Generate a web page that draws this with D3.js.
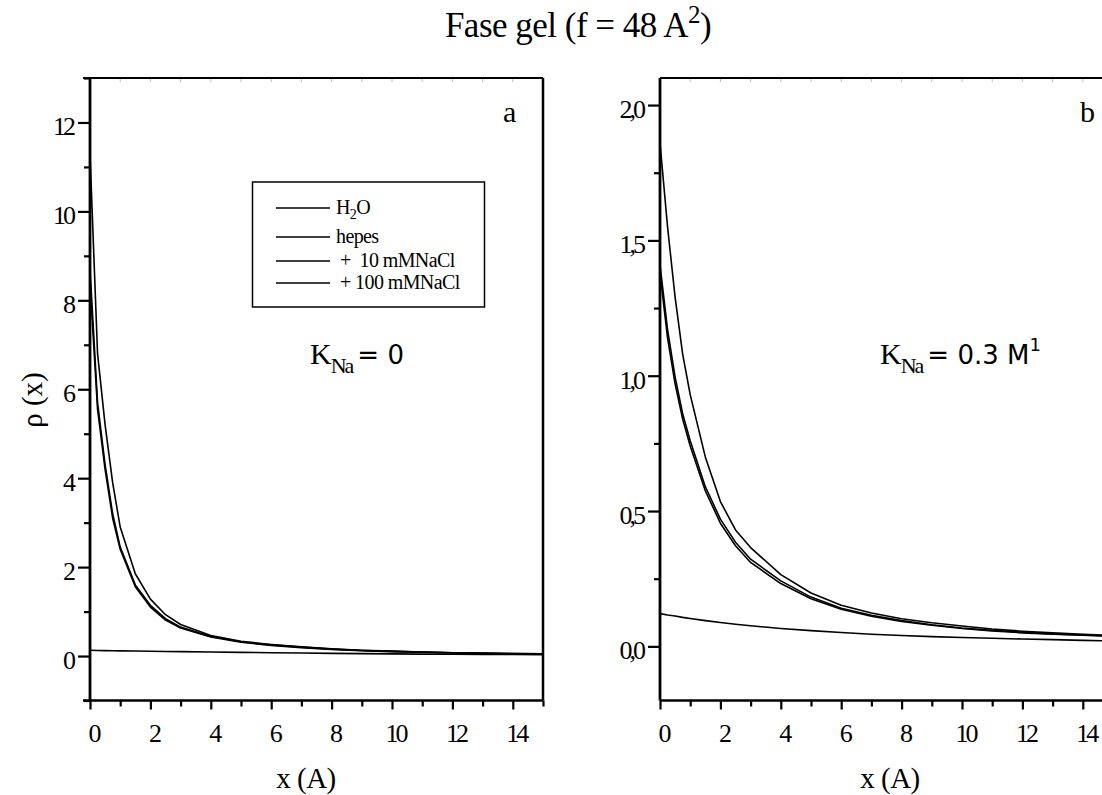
<!DOCTYPE html>
<html>
<head>
<meta charset="utf-8">
<script src="https://cdn.jsdelivr.net/npm/d3@7"></script>
<style>
  html, body { margin: 0; padding: 0; background: #fff; }
  svg { display: block; }
</style>
</head>
<body>
<svg id="chart" width="1102" height="795"></svg>
<script>
// Sampling positions (Angstrom) shared by every profile
const xs = [0, 0.25, 0.5, 0.75, 1, 1.5, 2, 2.5, 3, 4, 5, 6, 7, 8, 9, 10, 11, 12, 13, 14, 15];

// Panel a: K_Na = 0
const h2oA     = [0.13, 0.125, 0.122, 0.12, 0.117, 0.112, 0.107, 0.103, 0.099, 0.09, 0.082, 0.074, 0.067, 0.06, 0.054, 0.049, 0.044, 0.04, 0.036, 0.033, 0.03];
const hepesA   = [11.3, 6.8, 5.2, 3.9, 2.9, 1.85, 1.28, 0.93, 0.71, 0.46, 0.33, 0.26, 0.205, 0.16, 0.13, 0.11, 0.09, 0.075, 0.065, 0.055, 0.05];
const nacl10A  = [8.7, 5.7, 4.3, 3.2, 2.45, 1.6, 1.14, 0.84, 0.65, 0.44, 0.32, 0.25, 0.2, 0.155, 0.125, 0.105, 0.088, 0.073, 0.063, 0.054, 0.048];
const nacl100A = [8.4, 5.55, 4.2, 3.1, 2.4, 1.56, 1.1, 0.81, 0.63, 0.43, 0.31, 0.24, 0.19, 0.15, 0.12, 0.1, 0.085, 0.07, 0.06, 0.052, 0.046];

// Panel b: K_Na = 0.3 M^-1
const h2oB     = [0.121, 0.116, 0.112, 0.107, 0.103, 0.095, 0.088, 0.082, 0.076, 0.066, 0.058, 0.051, 0.045, 0.04, 0.036, 0.033, 0.03, 0.027, 0.025, 0.022, 0.02];
const hepesB   = [1.86, 1.55, 1.29, 1.08, 0.93, 0.70, 0.535, 0.43, 0.365, 0.265, 0.197, 0.152, 0.123, 0.102, 0.087, 0.075, 0.064, 0.056, 0.05, 0.045, 0.040];
const nacl10B  = [1.41, 1.17, 0.995, 0.86, 0.76, 0.59, 0.47, 0.385, 0.322, 0.242, 0.182, 0.141, 0.115, 0.095, 0.08, 0.068, 0.059, 0.052, 0.046, 0.042, 0.038];
const nacl100B = [1.38, 1.14, 0.97, 0.84, 0.74, 0.575, 0.455, 0.372, 0.31, 0.232, 0.176, 0.137, 0.111, 0.092, 0.078, 0.066, 0.057, 0.05, 0.045, 0.041, 0.037];

const legendLabels = ["H2O", "hepes", "+  10 mMNaCl", "+ 100 mMNaCl"];
const xTicks = [0, 2, 4, 6, 8, 10, 12, 14];
const yTicksA = [0, 2, 4, 6, 8, 10, 12];
const yTicksB = [0, 0.5, 1.0, 1.5, 2.0];

const svg = d3.select("#chart");
const serif = "'Liberation Serif', serif";
const sans = "'DejaVu Sans', sans-serif";

function drawPanel(opt) {
  const x = d3.scaleLinear().domain([0, 15]).range([opt.left, opt.left + 453]);
  const y = d3.scaleLinear().domain(opt.yDomain).range([700.5, 78]);
  const g = svg.append("g");

  // frame: top edge and (optional) right edge
  g.append("line").attr("x1", opt.left - opt.ext).attr("x2", x(15))
    .attr("y1", 78).attr("y2", 78).attr("stroke", "#000").attr("stroke-width", 2.2);
  if (opt.rightEdge) {
    g.append("line").attr("x1", x(15)).attr("x2", x(15))
      .attr("y1", 78).attr("y2", 700.5).attr("stroke", "#000").attr("stroke-width", 2.5);
  }
  // faint inner ticks along the top edge
  g.selectAll(".topTick").data(d3.range(1, 15)).join("line")
    .attr("x1", d => x(d)).attr("x2", d => x(d))
    .attr("y1", 79).attr("y2", 82).attr("stroke", "#bbb").attr("stroke-width", 1);

  // x axis
  const xMinor = d3.range(1, 16, 2);
  g.append("g").attr("transform", "translate(0,700.5)")
    .call(d3.axisBottom(x).tickValues(xMinor).tickSize(6).tickFormat(""))
    .call(a => a.select(".domain").remove())
    .call(a => a.selectAll("line").attr("stroke-width", 2.2));
  const xa = g.append("g").attr("transform", "translate(0,700.5)")
    .call(d3.axisBottom(x).tickValues(xTicks).tickSize(9).tickSizeOuter(0).tickPadding(14));
  xa.select(".domain").remove();
  xa.selectAll("line").attr("stroke-width", 2.2);
  xa.selectAll("text").attr("font-family", serif).attr("font-size", 26).attr("dx", 3)
    .attr("letter-spacing", -3).attr("fill", "#000");
  g.append("line").attr("x1", opt.left - opt.ext).attr("x2", x(15))
    .attr("y1", 700.5).attr("y2", 700.5).attr("stroke", "#000").attr("stroke-width", 2.5);

  // y axis
  g.append("g").attr("transform", `translate(${opt.left},0)`)
    .call(d3.axisLeft(y).tickValues(opt.yMinor).tickSize(6).tickFormat(""))
    .call(a => a.select(".domain").remove())
    .call(a => a.selectAll("line").attr("stroke-width", 2.2));
  const ya = g.append("g").attr("transform", `translate(${opt.left},0)`)
    .call(d3.axisLeft(y).tickValues(opt.yTicks).tickSize(12).tickSizeOuter(0).tickPadding(5)
      .tickFormat(opt.fmt));
  ya.select(".domain").remove();
  ya.selectAll("line").attr("stroke-width", 2.2);
  ya.selectAll("text").attr("font-family", serif).attr("font-size", 26).attr("dy", "0.48em")
    .attr("letter-spacing", -3).attr("fill", "#000");
  g.append("line").attr("x1", opt.left).attr("x2", opt.left)
    .attr("y1", 78).attr("y2", 700.5).attr("stroke", "#000").attr("stroke-width", 2.8);

  // profiles
  const line = d3.line().x((d, i) => x(xs[i])).y(d => y(d));
  opt.series.forEach(s => {
    g.append("path").datum(s).attr("d", line)
      .attr("fill", "none").attr("stroke", "#000").attr("stroke-width", 1.6)
      .attr("stroke-linejoin", "round");
  });

  // axis title
  g.append("text").attr("x", opt.xLabelX).attr("y", opt.xLabelY)
    .attr("text-anchor", "middle").attr("font-family", serif).attr("font-size", 29)
    .attr("letter-spacing", -0.5).text("x (A)");

  // panel letter
  g.append("text").attr("x", opt.letterX).attr("y", 122).attr("font-family", serif)
    .attr("font-size", 30).text(opt.letter);
  return { x, y };
}

const comma = d => d3.format(".1f")(d).replace(".", ",");

drawPanel({
  left: 90, ext: 7, rightEdge: true, yDomain: [-1, 13],
  yTicks: yTicksA, yMinor: d3.range(-1, 14, 2), fmt: d3.format("d"),
  series: [h2oA, hepesA, nacl10A, nacl100A],
  xLabelX: 306, xLabelY: 788, letter: "a", letterX: 503
});
drawPanel({
  left: 660, ext: 0, rightEdge: false, yDomain: [-0.2, 2.1],
  yTicks: yTicksB, yMinor: [0.25, 0.75, 1.25, 1.75], fmt: comma,
  series: [h2oB, hepesB, nacl10B, nacl100B],
  xLabelX: 890, xLabelY: 788, letter: "b", letterX: 1080
});

// title
const title = svg.append("text").attr("x", 578).attr("y", 37).attr("text-anchor", "middle")
  .attr("font-family", serif).attr("font-size", 35).attr("letter-spacing", -0.5);
title.append("tspan").text("Fase gel (f = 48 A");
title.append("tspan").attr("font-size", 25).attr("dy", -14).text("2");
title.append("tspan").attr("dy", 14).text(")");

// y axis title
svg.append("text").attr("transform", "translate(42,400) rotate(-90)")
  .attr("text-anchor", "middle").attr("font-family", serif).attr("font-size", 29)
  .text("ρ (x)");

// legend
const lg = svg.append("g");
lg.append("rect").attr("x", 252.5).attr("y", 182).attr("width", 232).attr("height", 125)
  .attr("fill", "#fff").attr("stroke", "#000").attr("stroke-width", 1.5);
const rowY = [208, 237, 261, 283];
legendLabels.forEach((lab, i) => {
  lg.append("line").attr("x1", 276).attr("x2", 330).attr("y1", rowY[i]).attr("y2", rowY[i])
    .attr("stroke", "#000").attr("stroke-width", 1.4);
  const t = lg.append("text").attr("x", i < 2 ? 336 : 340).attr("y", rowY[i] + 6)
    .attr("font-family", serif).attr("font-size", 20).attr("letter-spacing", -0.6)
    .attr("xml:space", "preserve");
  if (lab === "H2O") {
    t.append("tspan").text("H");
    t.append("tspan").attr("font-size", 14).attr("dy", 5).text("2");
    t.append("tspan").attr("dy", -5).text("O");
  } else {
    t.text(lab);
  }
});

// binding constant annotations
function kLabel(xPos, yPos, value, sup) {
  const t = svg.append("text").attr("x", xPos).attr("y", yPos).attr("font-size", 28);
  t.append("tspan").attr("font-family", serif).attr("font-size", 30).text("K");
  t.append("tspan").attr("font-family", serif).attr("font-size", 22).attr("dy", 9)
    .attr("letter-spacing", -2).attr("dx", -1).text("Na");
  t.append("tspan").attr("font-family", sans).attr("font-size", 26).attr("dy", -9)
    .attr("dx", 5).text("= " + value);
  if (sup) {
    t.append("tspan").attr("font-family", sans).attr("font-size", 18).attr("dy", -13)
      .text(sup);
  }
}
kLabel(310, 364, "0", null);
kLabel(880, 364, "0.3 M", "1");
</script>
</body>
</html>
